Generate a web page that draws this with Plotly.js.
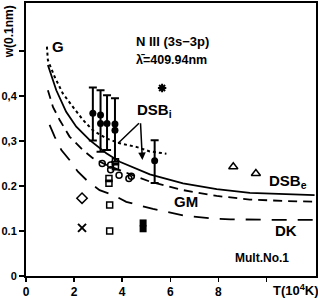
<!DOCTYPE html>
<html><head><meta charset="utf-8">
<script src="https://cdn.plot.ly/plotly-3.0.1.min.js"></script>
<style>body{margin:0;background:#fff}#c{width:318px;height:298px}</style>
</head><body><div id="c"></div>
<script>
// Experimental DSB_i points (filled circles with error bars)
const dsbiX = [2.78, 3.10, 3.37, 3.70, 5.35];
const dsbiY = [0.362, 0.358, 0.339, 0.338, 0.256];
const dsbiErrPlus = [0.057, 0.055, 0.063, 0.057, 0.046];
const dsbiErrMinus = [0.061, 0.082, 0.059, 0.084, 0.049];
const extraFilledX = [3.10, 3.70];
const extraFilledY = [0.339, 0.324];
// other experiments
const openCircleX = [3.17, 3.52, 3.52, 3.87, 4.28, 4.38];
const openCircleY = [0.250, 0.247, 0.236, 0.224, 0.217, 0.222];
const openSquareX = [3.72, 3.72, 3.45, 3.45, 3.48, 3.48];
const openSquareY = [0.254, 0.243, 0.217, 0.206, 0.158, 0.100];
const filledSquareX = [4.87, 4.87];
const filledSquareY = [0.118, 0.105];
const diamondX = [2.33];
const diamondY = [0.173];
const crossX = [2.33];
const crossY = [0.107];
const starX = [5.66];
const starY = [0.418];
const triangleX = [8.62, 9.56];
const triangleY = [0.243, 0.228];
// theory curves
const gX = [0.87, 0.91, 1.19, 1.53, 1.95, 2.37, 2.78, 3.34, 3.90, 4.59, 5.15, 5.84];
const gY = [0.510, 0.480, 0.443, 0.406, 0.376, 0.347, 0.324, 0.306, 0.295, 0.287, 0.277, 0.272];
const dsbeX = [0.91, 1.26, 1.67, 2.09, 2.65, 3.34, 3.90, 4.59, 5.15, 6.53, 7.93, 9.31, 10.7, 12.0];
const dsbeY = [0.469, 0.413, 0.365, 0.332, 0.302, 0.273, 0.254, 0.239, 0.226, 0.206, 0.193, 0.185, 0.182, 0.180];
const gmX = [0.91, 1.12, 1.40, 1.81, 2.37, 2.78, 3.34, 4.03, 4.59, 5.15, 6.53, 7.93, 9.31, 10.7, 12.0];
const gmY = [0.413, 0.376, 0.347, 0.310, 0.280, 0.262, 0.247, 0.232, 0.221, 0.210, 0.191, 0.178, 0.170, 0.167, 0.165];
const dkX = [0.98, 1.19, 1.47, 1.81, 2.16, 2.58, 3.06, 3.62, 4.17, 4.66, 5.28, 5.84, 6.60, 7.70, 8.50, 10.0, 12.0];
const dkY = [0.336, 0.310, 0.280, 0.258, 0.232, 0.210, 0.191, 0.180, 0.165, 0.158, 0.149, 0.143, 0.134, 0.128, 0.126, 0.125, 0.125];
// ticks
const xTickVals = [0, 2, 4, 6, 8, 10];
const xTickText = ['0', '2', '4', '6', '8', ' '];
const yTickVals = [0, 0.1, 0.2, 0.3, 0.4, 0.5];
const yTickText = ['0', '0.1', '0.2', '0,3', '0,4', ' '];

const F = 'Liberation Sans, Arial, sans-serif';
const blk = '#000';
const traces = [
  {x: gX, y: gY, mode: 'lines', line: {color: blk, width: 2, dash: 'dot'}},
  {x: dsbeX, y: dsbeY, mode: 'lines', line: {color: blk, width: 1.8}},
  {x: gmX, y: gmY, mode: 'lines', line: {color: blk, width: 1.8, dash: '9px,6px'}},
  {x: dkX, y: dkY, mode: 'lines', line: {color: blk, width: 1.8, dash: '15px,11px'}},
  {x: dsbiX, y: dsbiY, mode: 'markers', marker: {symbol: 'circle', size: 7, color: blk},
   error_y: {type: 'data', symmetric: false, array: dsbiErrPlus, arrayminus: dsbiErrMinus, color: blk, thickness: 2, width: 4}},
  {x: extraFilledX, y: extraFilledY, mode: 'markers', marker: {symbol: 'circle', size: 7, color: blk}},
  {x: openCircleX, y: openCircleY, mode: 'markers', marker: {symbol: 'circle-open', size: 6, color: blk, line: {width: 1.5}}},
  {x: openSquareX, y: openSquareY, mode: 'markers', marker: {symbol: 'square-open', size: 6, color: blk, line: {width: 1.5}}},
  {x: filledSquareX, y: filledSquareY, mode: 'markers', marker: {symbol: 'square', size: 7, color: blk}},
  {x: diamondX, y: diamondY, mode: 'markers', marker: {symbol: 'diamond-open', size: 8, color: blk, line: {width: 1.5}}},
  {x: crossX, y: crossY, mode: 'markers', marker: {symbol: 'x-thin-open', size: 8, color: blk, line: {width: 2}}},
  {x: starX, y: starY, mode: 'markers', marker: {symbol: 'asterisk-open', size: 7, color: blk, line: {width: 2}}},
  {x: triangleX, y: triangleY, mode: 'markers', marker: {symbol: 'triangle-up-open', size: 8, color: blk, line: {width: 1.5}}}
];

const bf = (s) => ({family: F, size: s, color: blk, weight: 'bold'});
const ann = (x, y, text, size, xa) => ({x: x, y: y, xref: 'x', yref: 'y', text: text, showarrow: false, font: bf(size), xanchor: xa || 'center', yanchor: 'middle'});
const annotations = [
  ann(1.33, 0.51, 'G', 15),
  ann(4.48, 0.522, 'N III (3s\u22123p)', 13, 'left'),
  ann(4.48, 0.48, '\u03bb\u0304=409.94nm', 12.5, 'left'),
  ann(4.52, 0.369, 'DSB<sub>i</sub>', 15, 'left'),
  ann(6.67, 0.165, 'GM', 15),
  ann(10.02, 0.21, 'DSB<sub>e</sub>', 15, 'left'),
  ann(10.83, 0.102, 'DK', 15),
  ann(9.81, 0.041, 'Mult.No.1', 12),
  {x: 3.83, y: 0.295, ax: 4.76, ay: 0.343, xref: 'x', yref: 'y', axref: 'x', ayref: 'y', text: '', showarrow: true, arrowhead: 0, arrowwidth: 1.5, arrowcolor: blk},
  {x: 4.84, y: 0.258, ax: 4.76, ay: 0.343, xref: 'x', yref: 'y', axref: 'x', ayref: 'y', text: '', showarrow: true, arrowhead: 2, arrowsize: 1, arrowwidth: 1.5, arrowcolor: blk},
  {x: -0.06, y: 0.895, xref: 'paper', yref: 'paper', text: 'w(0.1nm)', textangle: -90, showarrow: false, font: bf(12), xanchor: 'center', yanchor: 'middle'},
  {x: 0.93, y: -0.052, xref: 'paper', yref: 'paper', text: 'T(10<sup>4</sup>K)', showarrow: false, font: bf(13), xanchor: 'center', yanchor: 'middle'}
];

const layout = {
  width: 318, height: 298,
  margin: {l: 26, r: 2, t: 3, b: 22},
  paper_bgcolor: '#fff', plot_bgcolor: '#fff',
  showlegend: false,
  xaxis: {range: [0, 12.06], tickvals: xTickVals, ticktext: xTickText, ticks: 'outside', ticklen: 4, tickwidth: 1.5, tickcolor: blk,
          showline: true, linecolor: blk, linewidth: 2, mirror: true, showgrid: false, zeroline: false, tickfont: bf(12)},
  yaxis: {range: [0, 0.607], tickvals: yTickVals, ticktext: yTickText, ticks: 'outside', ticklen: 5, tickwidth: 1.5, tickcolor: blk,
          showline: true, linecolor: blk, linewidth: 2, mirror: true, showgrid: false, zeroline: false, tickfont: bf(11)},
  annotations: annotations
};
Plotly.newPlot('c', traces, layout, {displayModeBar: false, staticPlot: true});
</script></body></html>
